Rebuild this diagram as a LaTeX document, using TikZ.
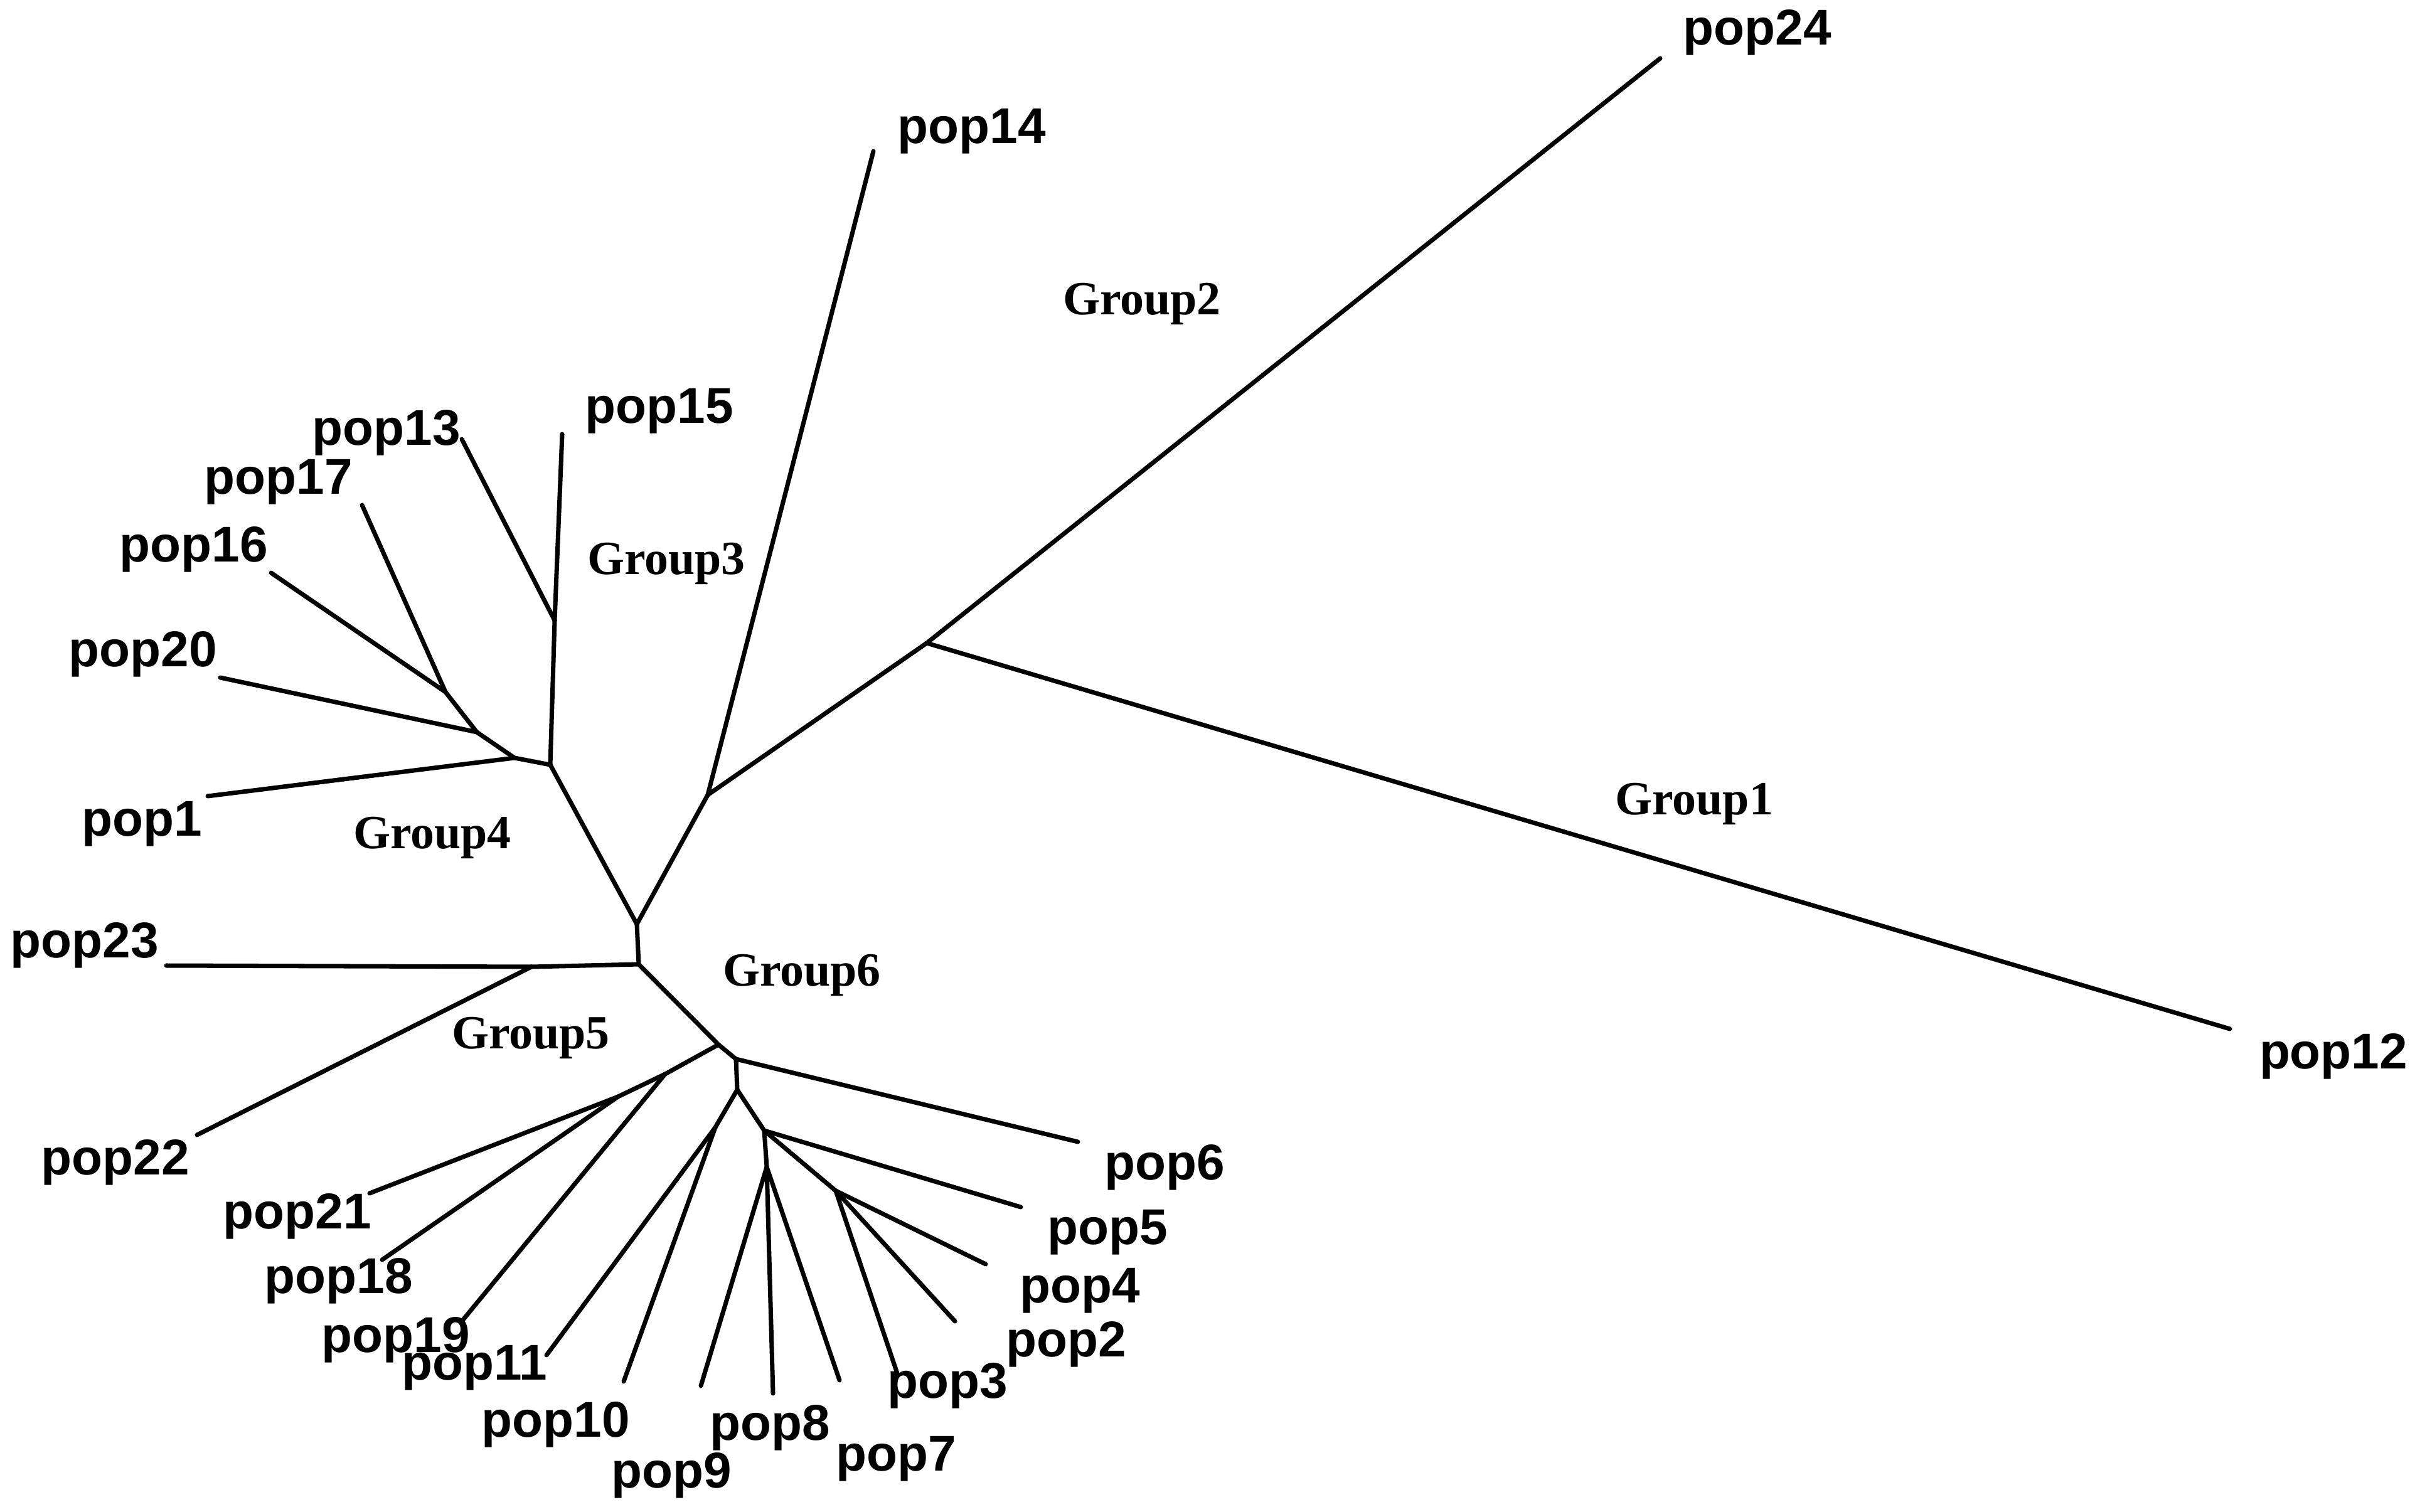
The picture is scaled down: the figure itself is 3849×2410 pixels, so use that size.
\documentclass[tikz,border=0pt]{standalone}
\usepackage{fontspec}
\setmainfont{Liberation Serif}
\newfontfamily\popfont{Liberation Sans}

\begin{document}
\begin{tikzpicture}[
    x=0.01cm, y=-0.01cm,
    branch/.style={line width=2pt, line cap=round, line join=round},
    leaf/.style={font=\popfont\bfseries\fontsize{22.8}{26}\selectfont, inner sep=0pt},
    grp/.style={font=\bfseries\fontsize{21.6}{25}\selectfont, inner sep=0pt}
]
\useasboundingbox (0,0) rectangle (3849,2410);

% Inner nodes
\coordinate (Ntop) at (1477,1025);
\coordinate (N3) at (1128,1267);
\coordinate (S1) at (1015,1473);
\coordinate (S2) at (1018,1537);
\coordinate (G34) at (877,1219);
\coordinate (G15) at (884,989);
\coordinate (G4a) at (820,1208);
\coordinate (G4b) at (760,1167);
\coordinate (G4c) at (710,1103);
\coordinate (G5c) at (847,1541);
\coordinate (G6a) at (1145,1665);
\coordinate (G5a) at (1060,1712);
\coordinate (G5b) at (985,1748);
\coordinate (G6b) at (1173,1688);
\coordinate (G6c) at (1175,1737);
\coordinate (G6d) at (1140,1797);
\coordinate (G6e) at (1218,1802);
\coordinate (G6f) at (1332,1898);
\coordinate (G6g) at (1222,1860);

% Tips
\coordinate (t24) at (2646,93);
\coordinate (t12) at (3554,1640);
\coordinate (t14) at (1392,241);
\coordinate (t15) at (896,692);
\coordinate (t13) at (736,700);
\coordinate (t17) at (577,805);
\coordinate (t16) at (432,913);
\coordinate (t20) at (351,1080);
\coordinate (t1) at (331,1269);
\coordinate (t23) at (265,1539);
\coordinate (t22) at (314,1809);
\coordinate (t21) at (589,1902);
\coordinate (t18) at (609,2008);
\coordinate (t19) at (736,2106);
\coordinate (t11) at (871,2160);
\coordinate (t10) at (994,2202);
\coordinate (t9) at (1117,2209);
\coordinate (t8) at (1232,2221);
\coordinate (t7) at (1338,2200);
\coordinate (t3) at (1431,2192);
\coordinate (t2) at (1522,2106);
\coordinate (t4) at (1571,2015);
\coordinate (t5) at (1627,1924);
\coordinate (t6) at (1718,1820);

% Branches
\draw[branch] (Ntop) -- (t24);
\draw[branch] (Ntop) -- (t12);
\draw[branch] (Ntop) -- (N3);
\draw[branch] (N3) -- (t14);
\draw[branch] (N3) -- (S1);
\draw[branch] (S1) -- (G34);
\draw[branch] (S1) -- (S2);
\draw[branch] (G34) -- (G15);
\draw[branch] (G15) -- (t15);
\draw[branch] (G15) -- (t13);
\draw[branch] (G34) -- (G4a);
\draw[branch] (G4a) -- (t1);
\draw[branch] (G4a) -- (G4b);
\draw[branch] (G4b) -- (t20);
\draw[branch] (G4b) -- (G4c);
\draw[branch] (G4c) -- (t16);
\draw[branch] (G4c) -- (t17);
\draw[branch] (S2) -- (G5c);
\draw[branch] (G5c) -- (t23);
\draw[branch] (G5c) -- (t22);
\draw[branch] (S2) -- (G6a);
\draw[branch] (G6a) -- (G5a);
\draw[branch] (G5a) -- (t19);
\draw[branch] (G5a) -- (G5b);
\draw[branch] (G5b) -- (t21);
\draw[branch] (G5b) -- (t18);
\draw[branch] (G6a) -- (G6b);
\draw[branch] (G6b) -- (t6);
\draw[branch] (G6b) -- (G6c);
\draw[branch] (G6c) -- (G6d);
\draw[branch] (G6d) -- (t11);
\draw[branch] (G6d) -- (t10);
\draw[branch] (G6c) -- (G6e);
\draw[branch] (G6e) -- (t5);
\draw[branch] (G6e) -- (G6f);
\draw[branch] (G6f) -- (t4);
\draw[branch] (G6f) -- (t2);
\draw[branch] (G6f) -- (t3);
\draw[branch] (G6e) -- (G6g);
\draw[branch] (G6g) -- (t9);
\draw[branch] (G6g) -- (t8);
\draw[branch] (G6g) -- (t7);

% Leaf labels
\node[leaf] (l24) at (2801,52) {pop24};
\node[leaf] (l12) at (3719,1684) {pop12};
\node[leaf] (l14) at (1549,209) {pop14};
\node[leaf] (l15) at (1051,655) {pop15};
\node[leaf] (l13) at (616,690) {pop13};
\node[leaf] (l17) at (444,768) {pop17};
\node[leaf] (l16) at (309,876) {pop16};
\node[leaf] (l20) at (228,1043) {pop20};
\node[leaf] (l1) at (226,1313) {pop1};
\node[leaf] (l23) at (135,1507) {pop23};
\node[leaf] (l22) at (184,1853) {pop22};
\node[leaf] (l21) at (474,1939) {pop21};
\node[leaf] (l18) at (540,2042) {pop18};
\node[leaf] (l19) at (631,2136) {pop19};
\node[leaf] (l11) at (756,2180) {pop11};
\node[leaf] (l10) at (886,2271) {pop10};
\node[leaf] (l9) at (1070,2352) {pop9};
\node[leaf] (l8) at (1227,2276) {pop8};
\node[leaf] (l7) at (1428,2325) {pop7};
\node[leaf] (l3) at (1510,2209) {pop3};
\node[leaf] (l2) at (1699,2143) {pop2};
\node[leaf] (l4) at (1721,2057) {pop4};
\node[leaf] (l5) at (1765,1964) {pop5};
\node[leaf] (l6) at (1856,1861) {pop6};

% Group labels
\node[grp] (grp1) at (2700,1281) {Group1};
\node[grp] (grp2) at (1820,484) {Group2};
\node[grp] (grp3) at (1062,898) {Group3};
\node[grp] (grp4) at (689,1335) {Group4};
\node[grp] (grp5) at (846,1654) {Group5};
\node[grp] (grp6) at (1278,1554) {Group6};
\end{tikzpicture}
\end{document}
